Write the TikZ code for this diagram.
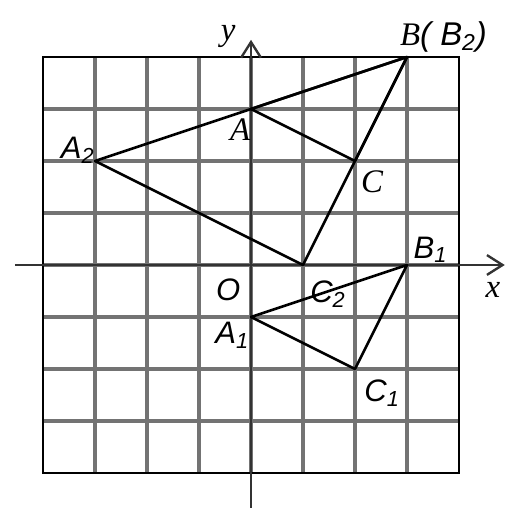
\documentclass[tikz,border=0pt]{standalone}
\usepackage{fontspec}
\setmainfont{Liberation Serif}
\setsansfont{Liberation Sans}
\usetikzlibrary{arrows.meta}
\begin{document}
\begin{tikzpicture}[x=1cm,y=1cm,
  gridline/.style={draw=black!55,line width=2pt},
  axisline/.style={draw=black!80,line width=1.3pt},
  tri/.style={draw=black,line width=1.4pt,line join=round},
  slab/.style={font=\sffamily\itshape\fontsize{17}{17}\selectfont,inner sep=0pt},
  rlab/.style={font=\rmfamily\itshape\fontsize{18}{18}\selectfont,inner sep=0pt}]
\useasboundingbox (-4.827,-4.846) rectangle (5.058,5.096);
% grid
\foreach \i in {-3,...,3} {
  \draw[gridline] (\i,-4) -- (\i,4);
  \draw[gridline] (-4,\i) -- (4,\i);
}
\draw[black,line width=1.4pt] (-4,-4) rectangle (4,4);
% axes
\coordinate (xs) at (-4.54,0);
\coordinate (xe) at (4.88,0);
\coordinate (ys) at (0,-4.67);
\coordinate (ye) at (0,4.33);
\draw[axisline,-{Straight Barb[length=0.3cm,width=0.38cm,line width=1.3pt]}] (xs) -- (xe);
\draw[axisline,-{Straight Barb[length=0.3cm,width=0.38cm,line width=1.3pt]}] (ys) -- (ye);
% points
\coordinate (A) at (0,3);
\coordinate (B) at (3,4);
\coordinate (C) at (2,2);
\coordinate (A2) at (-3,2);
\coordinate (C2) at (1,0);
\coordinate (B1) at (3,0);
\coordinate (A1) at (0,-1);
\coordinate (C1) at (2,-2);
\draw[tri] (A) -- (B) -- (C) -- cycle;
\draw[tri] (A2) -- (B) -- (C2) -- cycle;
\draw[tri] (A1) -- (B1) -- (C1) -- cycle;
% labels
\node[rlab] (ly) at (-0.44,4.4) {y};
\node[rlab] (lx) at (4.65,-0.48) {x};
\node[rlab,anchor=west] (lB) at (2.86,4.38) {B\textsf{( B\textsubscript{2})}};
\node[rlab] (lA) at (-0.21,2.6) {A};
\node[rlab] (lC) at (2.33,1.6) {C};
\node[slab] (lA2) at (-3.33,2.21) {A\textsubscript{2}};
\node[slab] (lO) at (-0.44,-0.48) {O};
\node[slab] (lC2) at (1.48,-0.56) {C\textsubscript{2}};
\node[slab] (lB1) at (3.45,0.29) {B\textsubscript{1}};
\node[slab] (lA1) at (-0.36,-1.35) {A\textsubscript{1}};
\node[slab] (lC1) at (2.52,-2.46) {C\textsubscript{1}};
\end{tikzpicture}
\end{document}
